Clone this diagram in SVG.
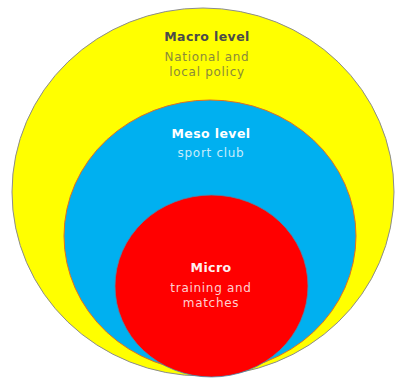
<svg xmlns="http://www.w3.org/2000/svg" width="396" height="380" viewBox="0 0 396 380">
<style>
text{font-family:"DejaVu Sans",Verdana,sans-serif;font-size:12px;letter-spacing:0.7px;text-anchor:middle}
.b{font-weight:bold;font-size:12.5px;letter-spacing:0.4px}
</style>
<rect width="396" height="380" fill="#ffffff"/>
<g id="macro">
<ellipse cx="203" cy="192" rx="191" ry="184" fill="#ffff00" stroke="#8c8c8c" stroke-width="1"/>
<text class="b" x="207" y="41" fill="#4a4a4a">Macro level</text>
<text x="207" y="61" fill="#8a8a3a">National and</text>
<text x="207" y="76" fill="#8a8a3a">local policy</text>
</g>
<g id="meso">
<ellipse cx="210" cy="236" rx="146" ry="136" fill="#00b0f0" stroke="#e07020" stroke-width="1"/>
<text class="b" x="211" y="138" fill="#ffffff">Meso level</text>
<text x="211" y="157" fill="#c8ecfb">sport club</text>
</g>
<g id="micro">
<ellipse cx="211.5" cy="286" rx="96.5" ry="91" fill="#ff0000" stroke="#4a8ab0" stroke-width="0.8"/>
<text class="b" x="211" y="272" fill="#fff0f0">Micro</text>
<text x="211" y="292" fill="#ffd0d0">training and</text>
<text x="211" y="307" fill="#ffd0d0">matches</text>
</g>
</svg>
